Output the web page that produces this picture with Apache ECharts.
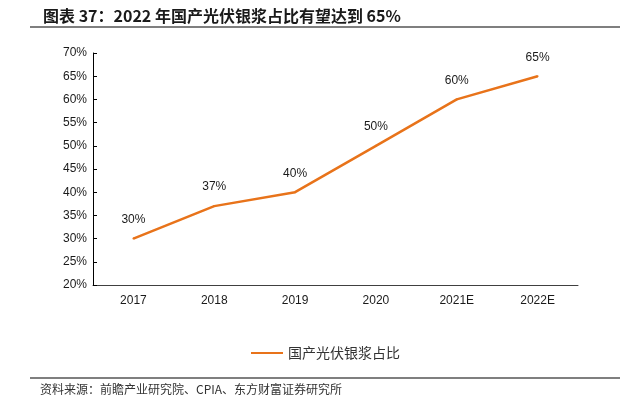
<!DOCTYPE html>
<html><head><meta charset="utf-8">
<script src="https://cdn.jsdelivr.net/npm/echarts@6/dist/echarts.min.js"></script>
<style>html,body{margin:0;padding:0;background:#fff}#c{width:628px;height:399px}</style>
</head><body><div id="c"></div>
<script>
const categories = ['2017','2018','2019','2020','2021E','2022E'];
const shareValues = [30, 37, 40, 50, 60, 65];
const yTicks = [20, 25, 30, 35, 40, 45, 50, 55, 60, 65, 70];
const seriesName = '国产光伏银浆占比';
const titleText = '图表 37：2022 年国产光伏银浆占比有望达到 65%';
const sourceText = '资料来源：前瞻产业研究院、CPIA、东方财富证券研究所';

const chart = echarts.init(document.getElementById('c'));
chart.setOption({
  backgroundColor: '#fff',
  animation: false,
  title: {
    text: titleText, left: 38, top: 3,
    textStyle: {fontFamily: '"Noto Sans CJK SC", sans-serif', fontWeight: 'bold', fontSize: 16, color: '#1a1a1a'}
  },
  graphic: [
    {type: 'rect', shape: {x: 30, y: 26, width: 590, height: 2}, style: {fill: '#7f7f7f'}},
    {type: 'rect', shape: {x: 30, y: 377, width: 590, height: 2}, style: {fill: '#7f7f7f'}},
    {type: 'text', left: 40, top: 383, style: {text: sourceText, font: '12px "Noto Sans CJK SC", sans-serif', fill: '#333'}}
  ],
  grid: {left: 93, right: 50, top: 53, bottom: 114},
  legend: {
    data: [seriesName], bottom: 34, left: 246, itemWidth: 32, itemHeight: 2,
    icon: 'rect', itemGap: 6,
    itemStyle: {color: '#E8731A'},
    textStyle: {fontFamily: '"Noto Sans CJK SC", sans-serif', fontSize: 14, color: '#333'}
  },
  xAxis: {
    type: 'category', data: categories, boundaryGap: true,
    axisLine: {lineStyle: {color: '#404040', width: 1}},
    axisTick: {inside: true, length: 4, lineStyle: {color: '#404040'}},
    axisLabel: {color: '#1a1a1a', fontSize: 12, fontFamily: '"Liberation Sans", Arial, sans-serif', margin: 10}
  },
  yAxis: {
    type: 'value', min: yTicks[0], max: yTicks[yTicks.length-1], interval: 5,
    axisLine: {show: true, lineStyle: {color: '#000', width: 1}},
    axisTick: {show: true, inside: true, length: 4, lineStyle: {color: '#000'}},
    splitLine: {show: false},
    axisLabel: {color: '#1a1a1a', fontSize: 12, fontFamily: '"Liberation Sans", Arial, sans-serif', formatter: v => v + '%', margin: 6}
  },
  series: [{
    name: seriesName, type: 'line', data: shareValues,
    symbol: 'circle', symbolSize: 2, showSymbol: true,
    lineStyle: {color: '#E8731A', width: 2.5}, itemStyle: {color: '#E8731A'},
    label: {show: true, position: 'top', distance: 12, formatter: '{c}%', color: '#1a1a1a', fontSize: 12, fontFamily: '"Liberation Sans", Arial, sans-serif'}
  }]
});
</script></body></html>
